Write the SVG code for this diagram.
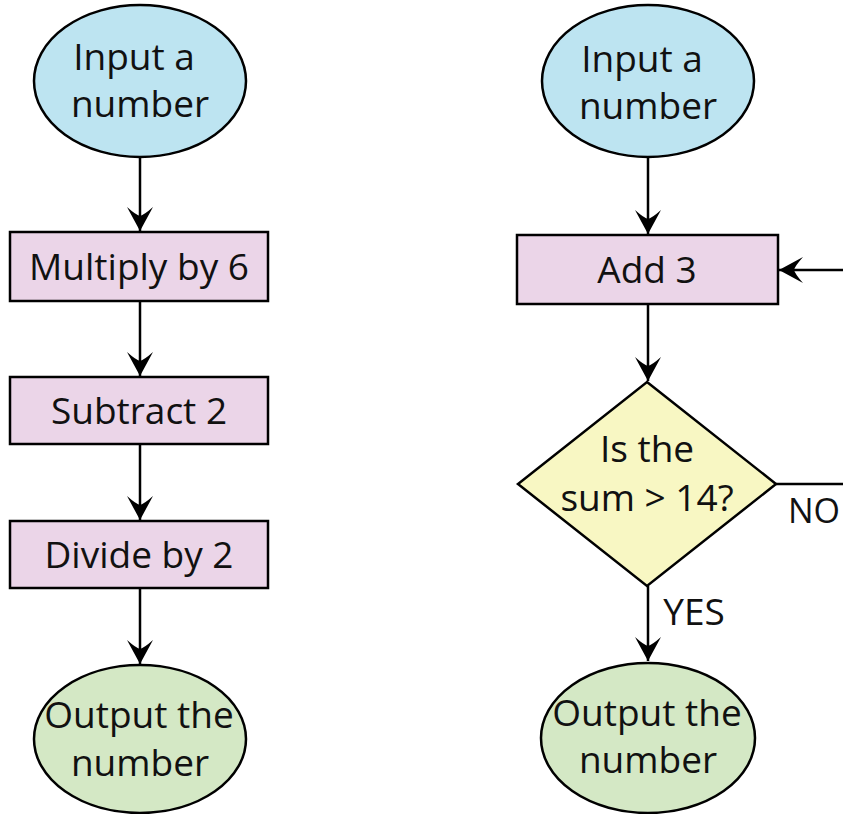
<svg xmlns="http://www.w3.org/2000/svg" width="843" height="814" viewBox="0 0 843 814">
<style>
.n{stroke:#000;stroke-width:2.5}
.blue{fill:#bde4f1}
.pink{fill:#ebd5e8}
.yel{fill:#f8f7c3}
.green{fill:#d4e8c5}
text{font-family:"Open Sans","Noto Sans",sans-serif;font-size:37px;fill:#111;text-anchor:middle}
.c{fill:none;stroke:#000;stroke-width:2.5}
</style>
<defs>
<marker id="ah" viewBox="-24 -14 26 28" refX="0" refY="0" markerWidth="26" markerHeight="28" markerUnits="userSpaceOnUse" orient="auto">
<path d="M0,0 L-24,-13 Q-16,-4 -15,0 Q-16,4 -24,13 Z" fill="#000"/>
</marker>
</defs>
<g id="connectors">
<line class="c" x1="140" y1="157" x2="140" y2="231" marker-end="url(#ah)"/>
<line class="c" x1="140" y1="301" x2="140" y2="376" marker-end="url(#ah)"/>
<line class="c" x1="140" y1="444" x2="140" y2="520" marker-end="url(#ah)"/>
<line class="c" x1="140" y1="588" x2="140" y2="664" marker-end="url(#ah)"/>
<line class="c" x1="648" y1="157" x2="648" y2="234" marker-end="url(#ah)"/>
<line class="c" x1="648" y1="304" x2="648" y2="381" marker-end="url(#ah)"/>
<line class="c" x1="648" y1="586" x2="648" y2="661" marker-end="url(#ah)"/>
<line class="c" x1="776" y1="484" x2="843" y2="484"/>
<line class="c" x1="843" y1="270" x2="779" y2="270" marker-end="url(#ah)"/>
<text x="814" y="523" style="font-size:34px">NO</text>
<text x="694" y="625">YES</text>
</g>
<g id="l-input">
<ellipse class="n blue" cx="140" cy="81" rx="106" ry="76"/>
<text x="134" y="70">Input a</text>
<text x="140" y="117">number</text>
</g>
<g id="l-mult">
<rect class="n pink" x="10" y="232" width="258" height="69"/>
<text x="139" y="280">Multiply by 6</text>
</g>
<g id="l-sub">
<rect class="n pink" x="10" y="377" width="258" height="67"/>
<text x="139" y="424">Subtract 2</text>
</g>
<g id="l-div">
<rect class="n pink" x="10" y="521" width="258" height="67"/>
<text x="139" y="568">Divide by 2</text>
</g>
<g id="l-output">
<ellipse class="n green" cx="140" cy="739" rx="106" ry="74"/>
<text x="139" y="728">Output the</text>
<text x="140" y="776">number</text>
</g>
<g id="r-input">
<ellipse class="n blue" cx="648" cy="81" rx="106" ry="76"/>
<text x="642" y="72">Input a</text>
<text x="648" y="119">number</text>
</g>
<g id="r-add">
<rect class="n pink" x="517" y="235" width="261" height="69"/>
<text x="647" y="283">Add 3</text>
</g>
<g id="r-dec">
<polygon class="n yel" points="647,382 776,484 647,586 518,484"/>
<text x="647" y="462">Is the</text>
<text x="647" y="511">sum &gt; 14?</text>
</g>
<g id="r-output">
<ellipse class="n green" cx="648" cy="738" rx="107" ry="75"/>
<text x="647" y="726">Output the</text>
<text x="648" y="773">number</text>
</g>
</svg>
